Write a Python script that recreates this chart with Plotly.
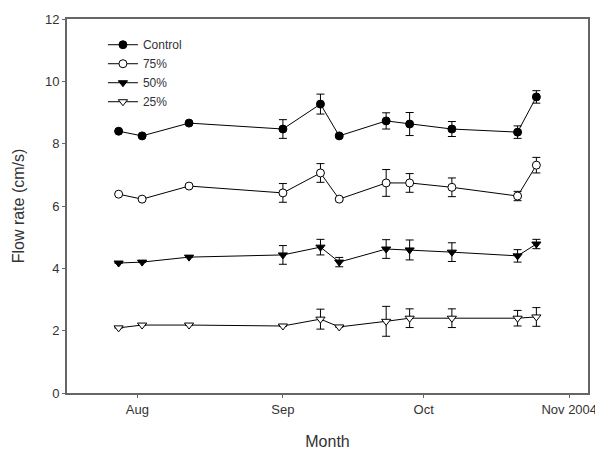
import plotly.graph_objects as go

dates = ["2004-07-28", "2004-08-02", "2004-08-12", "2004-09-01", "2004-09-09",
         "2004-09-13", "2004-09-23", "2004-09-28", "2004-10-07", "2004-10-21", "2004-10-25"]

control = [8.40, 8.25, 8.66, 8.47, 9.27, 8.25, 8.73, 8.63, 8.47, 8.37, 9.50]
control_err = [0.0, 0.0, 0.0, 0.30, 0.32, 0.05, 0.26, 0.37, 0.24, 0.20, 0.20]

p75 = [6.38, 6.22, 6.64, 6.42, 7.06, 6.22, 6.74, 6.74, 6.60, 6.32, 7.31]
p75_err = [0.0, 0.0, 0.0, 0.30, 0.30, 0.05, 0.43, 0.30, 0.30, 0.15, 0.25]

p50 = [4.17, 4.20, 4.36, 4.43, 4.68, 4.20, 4.62, 4.59, 4.52, 4.40, 4.78]
p50_err = [0.0, 0.0, 0.0, 0.30, 0.25, 0.15, 0.30, 0.32, 0.30, 0.20, 0.15]

p25 = [2.09, 2.18, 2.18, 2.15, 2.37, 2.12, 2.30, 2.40, 2.40, 2.40, 2.44]
p25_err = [0.0, 0.0, 0.0, 0.00, 0.32, 0.00, 0.48, 0.30, 0.30, 0.25, 0.30]

series = [
    ("Control", control, control_err, "circle", "black"),
    ("75%", p75, p75_err, "circle", "white"),
    ("50%", p50, p50_err, "triangle-down", "black"),
    ("25%", p25, p25_err, "triangle-down", "white"),
]

tick_vals = ["2004-08-01", "2004-09-01", "2004-10-01", "2004-11-01"]
tick_text = ["Aug", "Sep", "Oct", "Nov 2004"]

fig = go.Figure()
for name, vals, errs, sym, fill in series:
    fig.add_trace(go.Scatter(
        x=dates, y=vals, name=name, mode="lines+markers",
        line=dict(color="black", width=1),
        marker=dict(symbol=sym, size=8, color=fill, line=dict(color="black", width=1)),
        error_y=dict(type="data", array=errs, visible=True, color="black", thickness=1, width=4),
    ))

axis_common = dict(showline=True, linecolor="#666666", linewidth=2, mirror=True,
                   ticks="outside", ticklen=3, tickcolor="#666666", showgrid=False,
                   zeroline=False, automargin=False, tickfont=dict(size=13, color="#333333"))

fig.update_layout(
    width=603, height=452,
    margin=dict(l=59, r=23, t=11, b=67),
    paper_bgcolor="white", plot_bgcolor="white",
    font=dict(family="Liberation Sans, Arial, sans-serif", size=13, color="#333333"),
    xaxis=dict(range=["2004-07-17", "2004-11-05"], tickvals=tick_vals, ticktext=tick_text,
               title=dict(text="Month", font=dict(size=16), standoff=20), **axis_common),
    yaxis=dict(range=[0, 12], tickvals=[0, 2, 4, 6, 8, 10, 12],
               title=dict(text="Flow rate (cm/s)", font=dict(size=16), standoff=16), **axis_common),
    legend=dict(x=0.069, y=0.97, xanchor="left", yanchor="top", bgcolor="rgba(0,0,0,0)",
                font=dict(size=12, color="#333333"), tracegroupgap=0, itemwidth=30),
    showlegend=True,
)

fig.write_html("out.html")
